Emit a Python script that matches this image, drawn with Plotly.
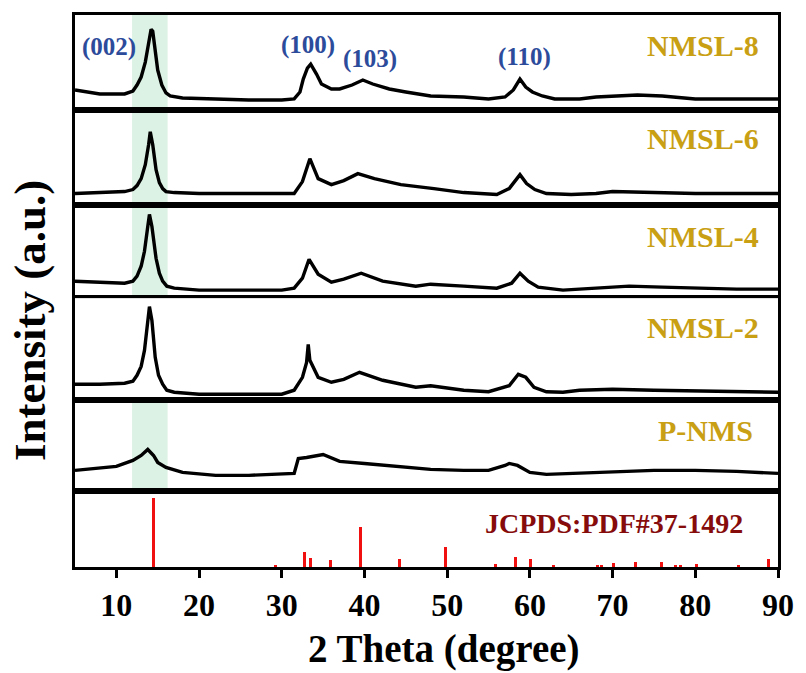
import plotly.graph_objects as go
from plotly.subplots import make_subplots

# ---------------- data (2-theta in degrees, intensity in a.u.) ----------------
nmsl8_x = [5, 8, 11, 12, 12.5, 13, 13.5, 13.9, 14.2, 14.4, 14.7, 15, 15.5, 16, 16.5, 18, 22, 26, 30, 31.5,
           32.2, 32.6, 33.1, 33.5, 34.2, 34.8, 36, 37, 38.5, 39.8, 41, 43, 45, 48, 52, 55, 57, 58, 58.8,
           59.5, 60.3, 61.5, 63, 66, 68, 70, 73, 76, 80, 85, 90]
nmsl8_y = [20, 16, 16, 19, 25, 33, 48, 65, 81, 79, 58, 40, 25, 17, 14, 12, 11, 10, 10, 11,
           18, 31, 42, 46, 36, 26, 21, 21, 25, 30, 26, 21, 18, 14, 13, 11, 13, 20, 31,
           23, 18, 14, 11, 11, 13, 14, 15, 14, 11, 11, 11]

nmsl6_x = [5, 8, 11, 12, 12.5, 13, 13.5, 13.9, 14.1, 14.4, 14.8, 15.2, 15.6, 16, 17, 20, 25, 30, 31.5,
           32.5, 33.4, 34.4, 36, 37.5, 39.2, 41.2, 44.4, 48.4, 52, 56, 57.5, 58.8, 59.6, 60.6, 62, 65,
           68, 70, 75, 80, 85, 90]
nmsl6_y = [11, 12, 13, 15, 19, 26, 40, 60, 73, 60, 35, 22, 16, 13, 12, 11, 11, 11, 11,
           23, 46, 26, 20, 24, 31, 26, 20, 16, 12, 10, 16, 30, 21, 15, 11, 10,
           11, 13, 12, 11, 11, 11]

nmsl4_x = [5, 8, 11, 12, 12.5, 13, 13.4, 13.8, 14.0, 14.3, 14.8, 15.2, 15.6, 16.1, 17, 20, 25, 30, 31.5,
           32.5, 33.3, 34.4, 36, 37.5, 39.6, 42.2, 46.2, 48, 52, 56, 57.8, 58.8, 59.8, 61, 64, 68, 72,
           76, 80, 85, 90]
nmsl4_y = [17, 16, 15, 17, 22, 32, 47, 72, 84, 72, 40, 25, 17, 12, 10, 8, 8, 8, 10,
           20, 39, 24, 16, 19, 25, 17, 12, 14, 12, 10, 15, 25, 17, 11, 8, 10, 12,
           11, 10, 9, 9]

nmsl2_x = [5, 8, 11, 12, 12.5, 13, 13.4, 13.8, 14.0, 14.3, 14.7, 15.1, 15.6, 16.1, 17, 20, 25, 30, 31.5,
           32.5, 33.0, 33.2, 33.4, 34.4, 36, 37.5, 39.4, 42.2, 46.2, 48, 52, 55, 57.5, 58.6, 59.5, 60.5,
           62, 64, 66, 70, 75, 80, 85, 90]
nmsl2_y = [16, 16, 17, 19, 25, 34, 50, 80, 94, 80, 43, 25, 16, 10, 8, 6, 6, 6, 10,
           23, 38, 56, 40, 23, 18, 21, 28, 20, 13, 14.5, 10, 8.5, 14.5, 26, 23, 13,
           8.5, 8, 10, 11, 10, 9.5, 8.5, 8]

pnms_x = [5, 8, 10, 12, 13, 13.8, 14.5, 15, 16, 18, 22, 26, 30, 31.5, 32, 33, 35, 37, 40, 43, 45.5,
          48, 52, 55, 57, 57.5, 58.5, 60, 62, 65, 70, 75, 80, 85, 90]
pnms_y = [21, 23, 25, 31, 36, 42, 36, 29, 24, 19, 16, 16, 17, 18, 33, 34, 37, 30, 28, 26, 24,
          22, 21, 21, 26, 28, 26, 19, 17, 18, 20, 21, 21, 20, 18]

ref_pos = [14.5, 29.3, 32.7, 33.5, 35.9, 39.5, 44.2, 49.8, 55.9, 58.3, 60.1, 62.8, 68.2, 68.7,
           70.1, 72.8, 75.9, 77.6, 78.2, 80.2, 85.2, 88.8]
ref_int = [69, 2, 15, 9, 7, 40, 8, 20, 3, 10, 8, 1.5, 2, 2,
           4, 5, 5, 2, 2, 3, 1.5, 8]

sample_names = ["NMSL-8", "NMSL-6", "NMSL-4", "NMSL-2", "P-NMS"]
ref_name = "JCPDS:PDF#37-1492"
miller_labels = ["(002)", "(100)", "(103)", "(110)"]
x_ticks = [10, 20, 30, 40, 50, 60, 70, 80, 90]

curves = [(nmsl8_x, nmsl8_y), (nmsl6_x, nmsl6_y), (nmsl4_x, nmsl4_y),
          (nmsl2_x, nmsl2_y), (pnms_x, pnms_y)]

# ---------------- figure ----------------
panel_h = [95.3, 95, 94, 102.5, 91.5, 76]
FONT = "Liberation Serif"
GOLD = "#C9A014"
BLUE = "#2D4B9B"

fig = make_subplots(rows=6, cols=1, shared_xaxes=True, vertical_spacing=0,
                    row_heights=[h / sum(panel_h) for h in panel_h])

for i, (cx, cy) in enumerate(curves):
    fig.add_trace(go.Scatter(x=cx, y=cy, mode="lines", name=sample_names[i],
                             line=dict(color="black", width=3.4)), row=i + 1, col=1)
    fig.add_vrect(x0=11.9, x1=16.2, fillcolor="#dcf2e4", opacity=1, line_width=0,
                  layer="below", row=i + 1, col=1)

fig.add_trace(go.Bar(x=ref_pos, y=ref_int, width=0.36, name=ref_name,
                     marker=dict(color="#F01010", line=dict(width=0))), row=6, col=1)

for r in range(1, 7):
    fig.update_xaxes(range=[5, 90], showline=True, mirror=True, linewidth=2.5, linecolor="black",
                     showgrid=False, zeroline=False, ticks="", showticklabels=False, row=r, col=1)
    fig.update_yaxes(range=[0, panel_h[r - 1]], showline=True, mirror=True, linewidth=2.5,
                     linecolor="black", showgrid=False, zeroline=False, ticks="",
                     showticklabels=False, fixedrange=True, row=r, col=1)

fig.update_xaxes(ticks="outside", ticklen=8, tickwidth=3, tickcolor="black",
                 tickvals=x_ticks, showticklabels=True,
                 tickfont=dict(family=FONT, size=32, color="black", weight="bold"),
                 row=6, col=1)

ann = []
label_pos = [(0.976, 0.9453), (0.976, 0.7763), (0.976, 0.599), (0.976, 0.4335), (0.9675, 0.2472)]
for name, (px, py) in zip(sample_names, label_pos):
    ann.append(dict(text=name, x=px, y=py, xref="paper", yref="paper", xanchor="right",
                    yanchor="middle", showarrow=False,
                    font=dict(family=FONT, size=30, color=GOLD, weight="bold")))
ann.append(dict(text=ref_name, x=0.953, y=0.0788, xref="paper", yref="paper", xanchor="right",
                yanchor="middle", showarrow=False,
                font=dict(family=FONT, size=28, color="#860B0B", weight="bold")))
miller_pos = [(0.048, 0.9417), (0.331, 0.9453), (0.42, 0.92), (0.639, 0.9237)]
for lab, (px, py) in zip(miller_labels, miller_pos):
    ann.append(dict(text=lab, x=px, y=py, xref="paper", yref="paper", xanchor="center",
                    yanchor="middle", showarrow=False,
                    font=dict(family=FONT, size=25, color=BLUE, weight="bold")))
ann.append(dict(text="2 Theta (degree)", x=0.5248, y=-0.149, xref="paper", yref="paper",
                xanchor="center", yanchor="middle", showarrow=False,
                font=dict(family=FONT, size=39, color="black", weight="bold")))
ann.append(dict(text="Intensity (a.u.)", x=-0.063, y=0.447, xref="paper", yref="paper",
                xanchor="center", yanchor="middle", showarrow=False, textangle=-90,
                font=dict(family=FONT, size=45, color="black", weight="bold")))

fig.update_layout(width=806, height=673, margin=dict(l=75, r=23, t=13, b=106),
                  plot_bgcolor="white", paper_bgcolor="white", showlegend=False,
                  annotations=ann, bargap=0)

fig.write_html("out.html")
